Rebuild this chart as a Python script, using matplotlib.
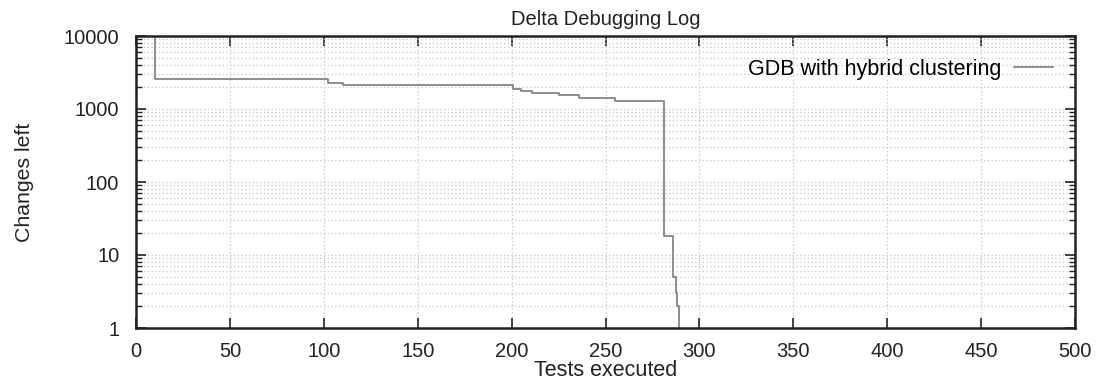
import matplotlib
matplotlib.use("Agg")
import matplotlib.pyplot as plt
from matplotlib.ticker import LogLocator, NullFormatter

# Data
tests = [10, 10, 102, 110, 201, 205, 211, 225, 236, 255, 281.3, 285.8, 287.5, 288.2, 289.3]
changes = [10000, 2600, 2300, 2100, 1860, 1770, 1640, 1550, 1430, 1300, 18, 5, 3, 2, 1]
series_label = "GDB with hybrid clustering"
x_ticks = [0, 50, 100, 150, 200, 250, 300, 350, 400, 450, 500]
y_ticks = [1, 10, 100, 1000, 10000]

plt.rcParams['font.family'] = ['Liberation Sans', 'DejaVu Sans']
plt.rcParams['font.size'] = 14.5

fig = plt.figure(figsize=(10.97, 3.8), dpi=100)
ax = fig.add_axes([136/1097, 1-328/380, (1075-136)/1097, (328-36)/380])

ax.plot(tests, changes, drawstyle='steps-post', color='#858585', lw=1.3, label=series_label)

ax.set_yscale('log')
ax.set_xlim(0, 500)
ax.set_ylim(1, 10000)
ax.set_xticks(x_ticks)
ax.set_yticks(y_ticks)
ax.set_yticklabels([str(v) for v in y_ticks])
ax.yaxis.set_minor_locator(LogLocator(base=10, subs=range(2, 10)))
ax.yaxis.set_minor_formatter(NullFormatter())

ax.tick_params(axis='both', which='major', direction='in', length=7, width=1.2,
               top=True, right=True, pad=10, colors='#222222', labelcolor='#222222',
               labelsize=14.5)
ax.tick_params(axis='y', which='major', pad=12)
ax.tick_params(axis='y', which='minor', direction='in', length=4, width=1.0,
               left=True, right=True, colors='#222222')
ax.tick_params(axis='x', which='minor', bottom=False, top=False)

ax.grid(True, which='major', axis='x', color='#c4c4c4', linestyle=(0, (1, 2)), lw=0.9)
ax.grid(True, which='both', axis='y', color='#c4c4c4', linestyle=(0, (1, 2)), lw=0.9)

for s in ax.spines.values():
    s.set_linewidth(1.8)
    s.set_color('#222222')

ax.set_title("Delta Debugging Log", fontsize=14.5, pad=8, color='#222222')
ax.set_xlabel("Tests executed", fontsize=15.5, color='#222222')
ax.xaxis.set_label_coords(0.5, (328-370)/292)
ax.xaxis.label.set_va('center')
ax.set_ylabel("Changes left", fontsize=15.3, color='#222222')
ax.yaxis.set_label_coords((25-136)/939, 0.5)
ax.yaxis.label.set_va('center')

ax.legend(loc='center right', bbox_to_anchor=((1053-136)/939, (328-69)/292),
          frameon=False, markerfirst=False, handlelength=1.8, borderaxespad=0,
          borderpad=0, handletextpad=0.6, fontsize=15.5)

fig.savefig("out.png", dpi=100)
